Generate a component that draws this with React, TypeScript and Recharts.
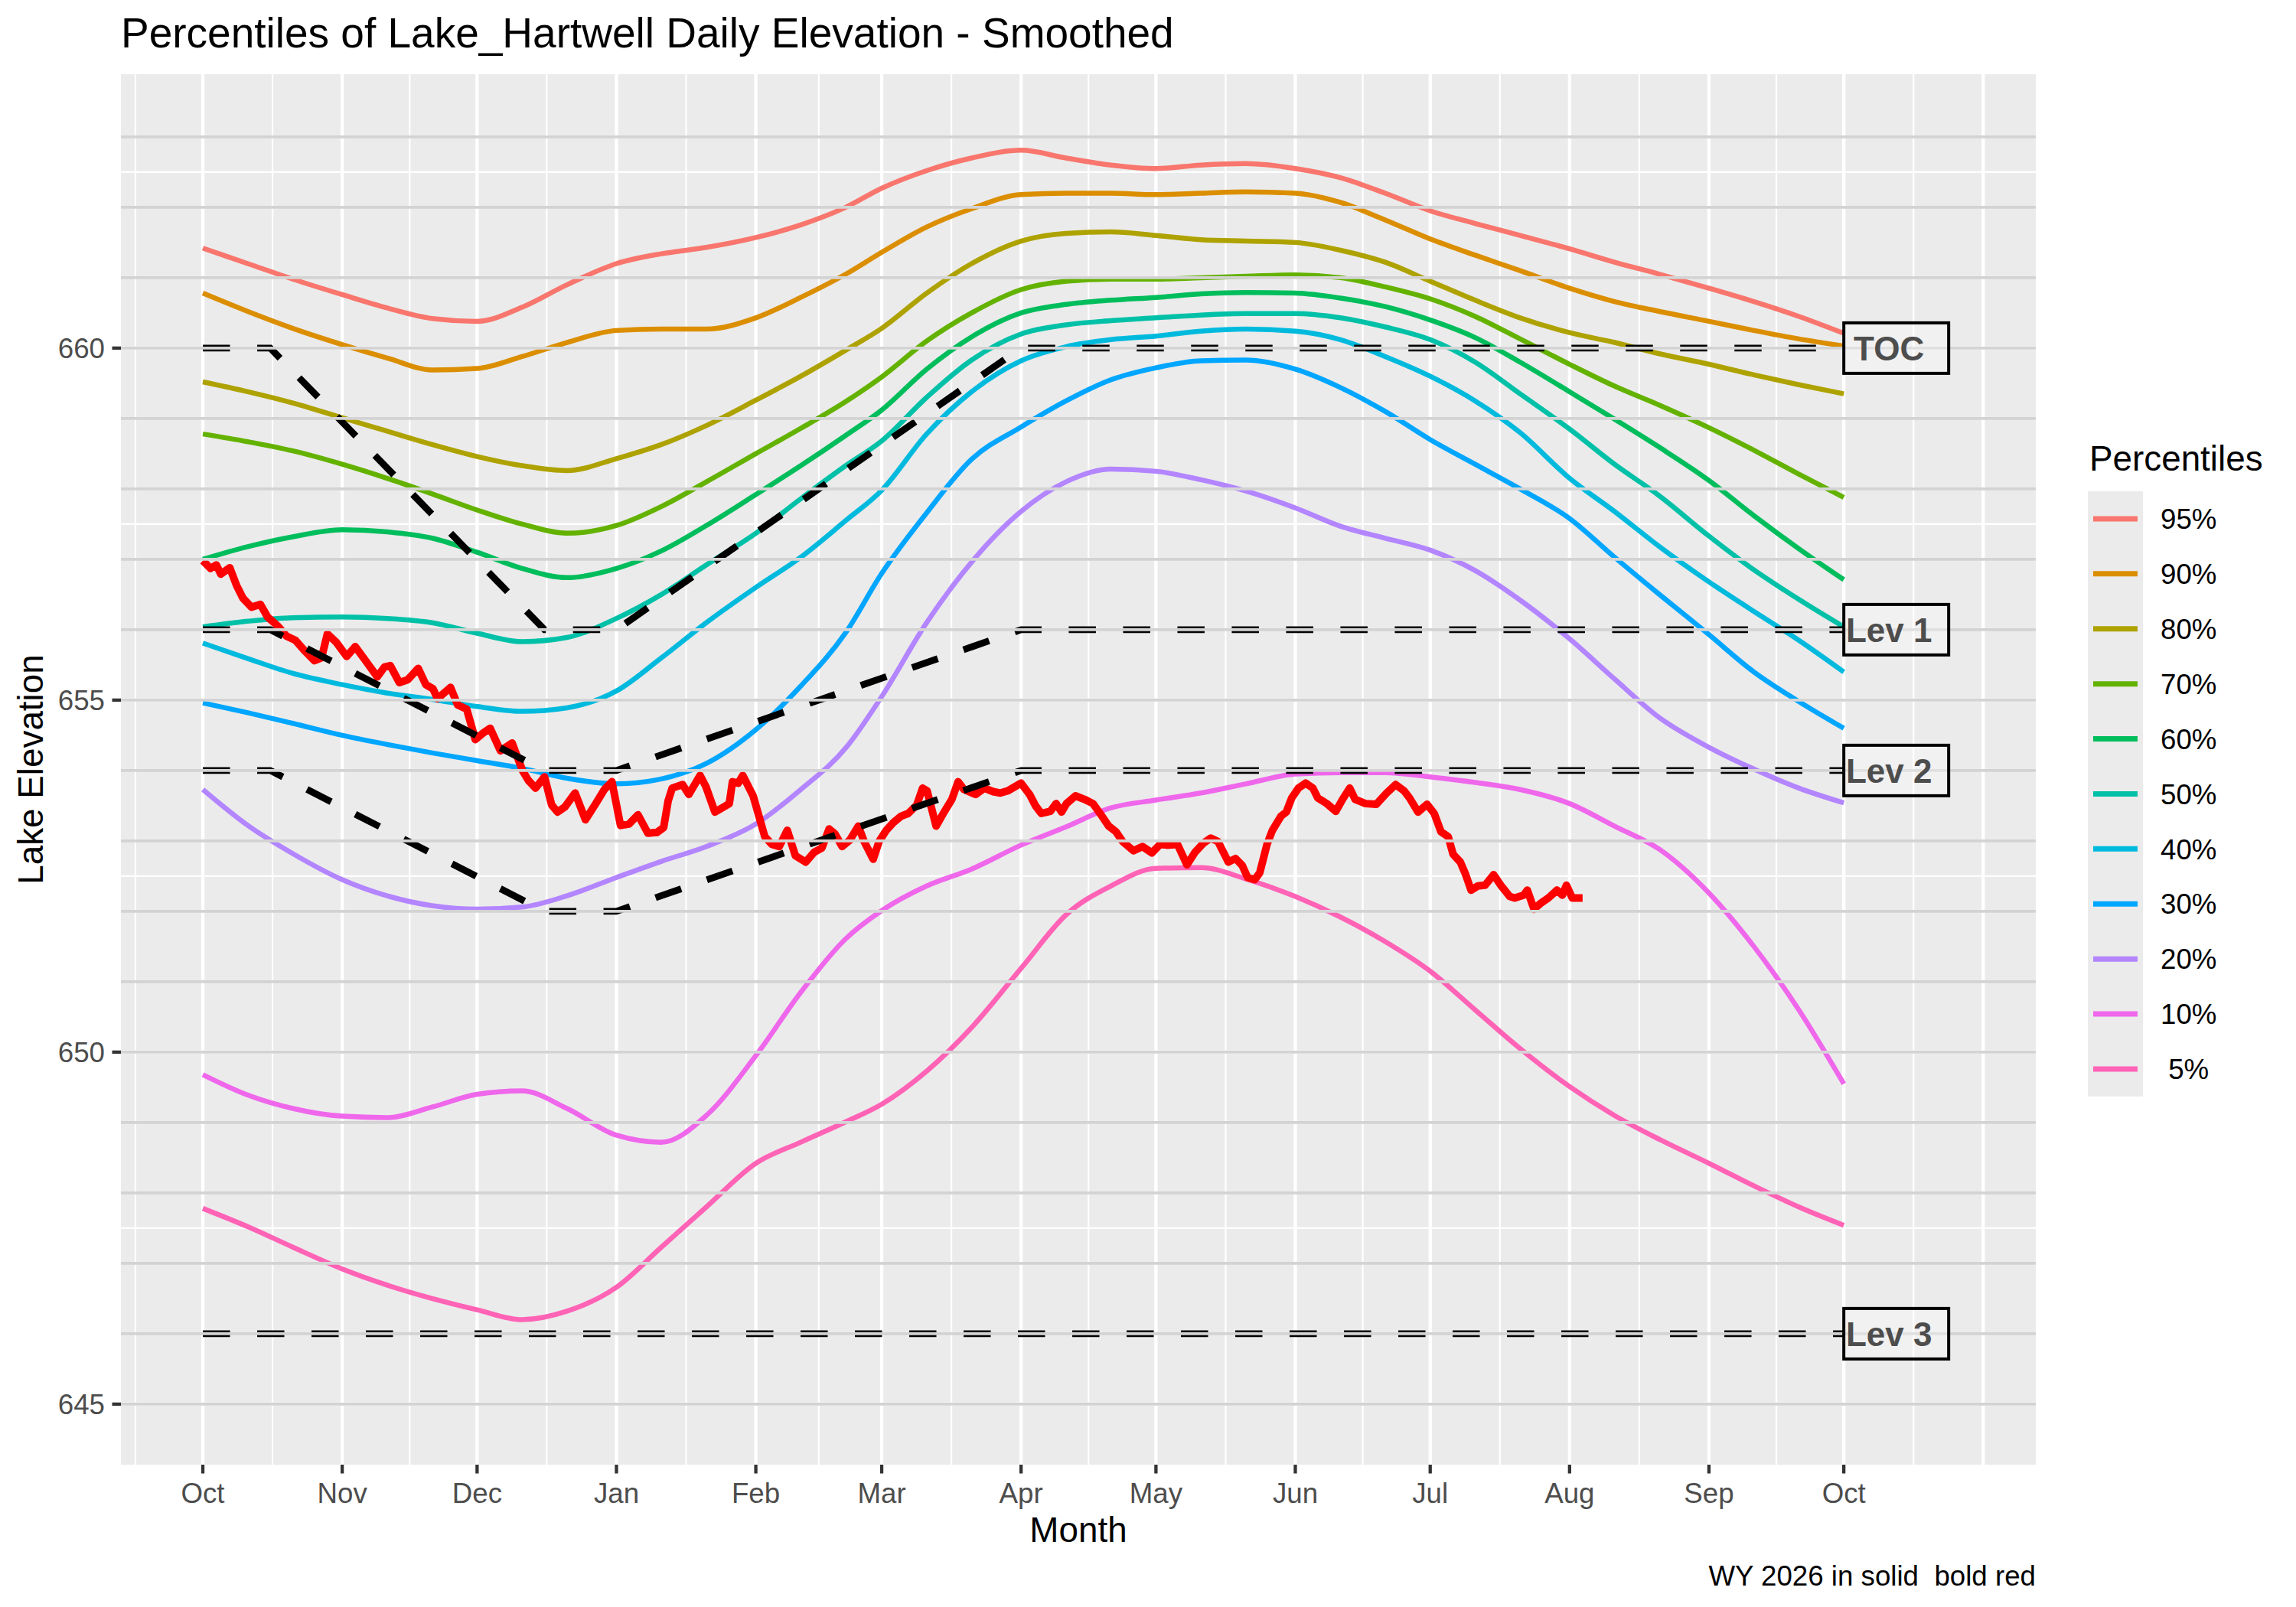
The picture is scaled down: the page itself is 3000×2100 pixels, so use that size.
import React from 'react'
import {
  LineChart, Line, XAxis, YAxis, CartesianGrid, ReferenceLine, ReferenceDot, Label
} from 'recharts'

const FONT = '"Liberation Sans", Arial, Helvetica, sans-serif'

// day of water year (0 = Oct 1)
const monthDays = [0, 31, 61, 92, 123, 151, 182, 212, 243, 273, 304, 335, 365]
const monthNames = ['Oct', 'Nov', 'Dec', 'Jan', 'Feb', 'Mar', 'Apr', 'May', 'Jun', 'Jul', 'Aug', 'Sep', 'Oct']
const gridMajorDays = [0, 31, 61, 92, 123, 151, 182, 212, 243, 273, 304, 335, 365, 396]
const gridMinorDays = [-15, 15.5, 46, 76.5, 107.5, 137, 166.5, 197, 227.5, 258, 288.5, 319.5, 350, 380.5]
const elevTicks = [645, 650, 655, 660]
const elevMinor = [647.5, 652.5, 657.5, 662.5]
const refElev = [645, 646, 647, 648, 649, 650, 651, 652, 653, 654, 655, 656, 657, 658, 659, 660, 661, 662, 663]

// smoothed percentile curves, read at these days
const days = [0, 10, 20, 31, 41, 51, 61, 71, 81, 92, 102, 112, 123, 133, 143, 151, 161, 171, 182, 192, 202, 212, 222, 232, 243, 253, 263, 273, 283, 293, 304, 314, 324, 335, 345, 355, 365]

const p95 = [661.42, 661.2, 660.98, 660.76, 660.57, 660.42, 660.38, 660.58, 660.9, 661.2, 661.34, 661.43, 661.57, 661.75, 662.0, 662.27, 662.52, 662.7, 662.81, 662.7, 662.6, 662.55, 662.6, 662.62, 662.55, 662.42, 662.2, 661.95, 661.77, 661.6, 661.41, 661.22, 661.05, 660.85, 660.66, 660.45, 660.21]
const p90 = [660.78, 660.52, 660.28, 660.05, 659.86, 659.69, 659.71, 659.88, 660.08, 660.25, 660.27, 660.27, 660.43, 660.72, 661.05, 661.36, 661.72, 661.98, 662.18, 662.2, 662.2, 662.18, 662.2, 662.22, 662.2, 662.07, 661.82, 661.55, 661.32, 661.1, 660.85, 660.66, 660.52, 660.38, 660.25, 660.13, 660.03]
const p80 = [659.52, 659.38, 659.22, 659.01, 658.82, 658.63, 658.46, 658.33, 658.26, 658.43, 658.63, 658.9, 659.26, 659.6, 659.97, 660.28, 660.78, 661.2, 661.52, 661.63, 661.65, 661.6, 661.54, 661.52, 661.5, 661.39, 661.22, 660.95, 660.68, 660.43, 660.22, 660.08, 659.92, 659.77, 659.62, 659.48, 659.35]
const p70 = [658.78, 658.67, 658.54, 658.35, 658.15, 657.93, 657.7, 657.5, 657.37, 657.48, 657.75, 658.1, 658.5, 658.86, 659.24, 659.59, 660.1, 660.5, 660.83, 660.95, 660.98, 660.98, 661.0, 661.02, 661.04, 661.0, 660.87, 660.7, 660.45, 660.13, 659.77, 659.46, 659.19, 658.87, 658.55, 658.21, 657.88]
const p60 = [657.0, 657.18, 657.32, 657.42, 657.39, 657.3, 657.1, 656.87, 656.74, 656.87, 657.12, 657.48, 657.92, 658.33, 658.76, 659.12, 659.7, 660.16, 660.5, 660.62, 660.68, 660.72, 660.77, 660.79, 660.78, 660.71, 660.59, 660.4, 660.15, 659.8, 659.38, 658.99, 658.59, 658.12, 657.62, 657.15, 656.71]
const p50 = [656.04, 656.12, 656.17, 656.18, 656.16, 656.1, 655.95, 655.83, 655.89, 656.16, 656.5, 656.92, 657.37, 657.86, 658.33, 658.68, 659.3, 659.83, 660.2, 660.33, 660.39, 660.43, 660.47, 660.49, 660.49, 660.43, 660.3, 660.12, 659.8, 659.35, 658.85, 658.35, 657.9, 657.33, 656.85, 656.43, 656.04]
const p40 = [655.81, 655.59, 655.38, 655.22, 655.1, 655.01, 654.91, 654.84, 654.89, 655.13, 655.6, 656.1, 656.6, 657.03, 657.55, 657.98, 658.78, 659.38, 659.82, 660.02, 660.12, 660.17, 660.24, 660.27, 660.24, 660.12, 659.88, 659.6, 659.25, 658.8, 658.15, 657.68, 657.18, 656.68, 656.26, 655.85, 655.4]
const p30 = [654.96, 654.82, 654.67, 654.5, 654.37, 654.25, 654.14, 654.03, 653.89, 653.81, 653.88, 654.1, 654.58, 655.2, 655.96, 656.8, 657.66, 658.42, 658.88, 659.25, 659.55, 659.72, 659.82, 659.83, 659.7, 659.44, 659.1, 658.7, 658.35, 658.0, 657.58, 657.03, 656.5, 655.93, 655.4, 654.98, 654.6]
const p20 = [653.73, 653.22, 652.82, 652.45, 652.22, 652.08, 652.03, 652.06, 652.22, 652.48, 652.71, 652.92, 653.24, 653.73, 654.32, 655.05, 656.1, 656.96, 657.68, 658.1, 658.28, 658.25, 658.13, 657.97, 657.73, 657.47, 657.3, 657.13, 656.84, 656.42, 655.87, 655.3, 654.75, 654.33, 654.02, 653.75, 653.54]
const p10 = [649.68, 649.39, 649.2, 649.09, 649.07, 649.22, 649.4, 649.45, 649.2, 648.82, 648.72, 649.1, 649.95, 650.85, 651.61, 652.01, 652.36, 652.6, 652.94, 653.2, 653.47, 653.58, 653.68, 653.81, 653.95, 653.97, 653.97, 653.91, 653.83, 653.73, 653.53, 653.21, 652.88, 652.26, 651.5, 650.6, 649.55]
const p5 = [647.78, 647.52, 647.23, 646.92, 646.69, 646.5, 646.34, 646.2, 646.32, 646.66, 647.23, 647.8, 648.42, 648.72, 649.01, 649.26, 649.73, 650.35, 651.19, 651.95, 652.36, 652.61, 652.62, 652.46, 652.21, 651.92, 651.57, 651.15, 650.6, 650.05, 649.51, 649.1, 648.76, 648.42, 648.1, 647.8, 647.54]

const pctNames = ['95%', '90%', '80%', '70%', '60%', '50%', '40%', '30%', '20%', '10%', ' 5%']
const pctColors = ['#F8766D', '#DB8E00', '#AEA200', '#64B200', '#00BD5C', '#00C1A7', '#00BADE', '#00A6FF', '#B385FF', '#EF67EB', '#FF63B6']
const pctValues = [p95, p90, p80, p70, p60, p50, p40, p30, p20, p10, p5]

// guide curves
const ruleDays = [0, 15, 76, 92, 182, 365]
const tocRule = [660, 660, 656, 656, 660, 660]
const lev1Rule = [656, 656, 654, 654, 656, 656]
const lev2Rule = [654, 654, 652, 652, 654, 654]
const lev3Rule = [646, 646, 646, 646, 646, 646]
const ruleNames = ['TOC', 'Lev 1', 'Lev 2', 'Lev 3']
const ruleLevels = [660, 656, 654, 646]

// WY 2026 observed
const obsDays = [0, 1.7, 3, 4, 6, 7.5, 8.9, 10.8, 12.8, 14.4, 16.7, 18.6, 20.6, 22.5, 24.8, 26.4, 27.7, 29.7, 32, 33.9, 36.2, 38.8, 40.4, 41.7, 43.7, 45.6, 47.9, 49.6, 51.2, 52.2, 55.1, 56.7, 58.7, 60.6, 62.3, 63.9, 66.2, 68.8, 71.1, 72.4, 74, 76, 77.6, 78.9, 80.5, 82.8, 85.1, 87.4, 89.3, 91, 92.9, 94.8, 96.8, 99,
  101, 102.5, 103.5, 104.4, 106.7, 108.1, 109.3, 110.6, 111.9, 113.9, 115.8, 117.1, 117.8, 119.1, 120.1, 122.4, 123.7, 125, 126.6, 128.2, 130, 131.8, 134.1, 136, 137.7, 139.3, 140.6, 142.2, 143.9, 145.8, 147.1, 149.1, 150.4, 152, 153.6, 155.3, 156.9, 158.8, 160.1, 161.1, 163.1, 164.7, 166.6, 168, 169.3, 171.9, 173.8, 175.8, 177.4, 179, 182, 183.9, 185.2, 186.5, 188.5, 189.8,
  191, 192.1, 194.1, 196.1, 198, 200, 201.5, 203.1, 204.6, 207, 209, 211.1, 212.9, 214.4, 216.8, 218.9, 220.7, 222.6, 224.2, 225.8, 228.1, 229.7, 231.2, 232.4, 234, 235.1, 236.7, 237.9, 239.8, 241, 242.2, 243.7, 245.3, 246.9, 248, 250, 252, 253.5, 255.1, 256.3, 258.6, 261, 263.3, 265.3, 267.2, 268.4, 270.3, 272.3, 273.9, 275.4, 277, 278.1, 279.7, 280.9, 282.1, 283.6, 285.2, 287.1, 288.7, 290.7, 291.8, 293.8, 294.6, 296.1, 297.7, 299.3, 301.2, 302.4, 303.3, 304.6, 306.9]
const obsElev = [656.98, 656.87, 656.92, 656.79, 656.88, 656.63, 656.45, 656.32, 656.36, 656.18, 656.05, 655.91, 655.85, 655.71, 655.56, 655.6, 655.94, 655.82, 655.62, 655.76, 655.56, 655.33, 655.47, 655.49, 655.25, 655.29, 655.45, 655.22, 655.16, 655.02, 655.18, 654.93, 654.87, 654.44, 654.53, 654.6, 654.28, 654.39, 654.0, 653.86, 653.75, 653.91, 653.51, 653.41, 653.48, 653.68, 653.3, 653.53, 653.73, 653.84, 653.22, 653.24, 653.37, 653.11,
  653.12, 653.19, 653.57, 653.75, 653.8, 653.66, 653.79, 653.93, 653.77, 653.41, 653.48, 653.53, 653.84, 653.82, 653.93, 653.64, 653.35, 653.06, 652.95, 652.92, 653.15, 652.79, 652.7, 652.84, 652.9, 653.17, 653.1, 652.92, 653.01, 653.21, 652.99, 652.74, 652.99, 653.15, 653.26, 653.35, 653.39, 653.51, 653.75, 653.71, 653.21, 653.39, 653.59, 653.84, 653.73, 653.66, 653.75, 653.7, 653.68, 653.71, 653.82, 653.66, 653.5, 653.39, 653.42, 653.53,
  653.41, 653.53, 653.64, 653.59, 653.53, 653.35, 653.21, 653.13, 652.99, 652.86, 652.92, 652.83, 652.95, 652.94, 652.95, 652.66, 652.84, 652.97, 653.04, 652.99, 652.7, 652.75, 652.65, 652.48, 652.45, 652.55, 652.95, 653.15, 653.35, 653.41, 653.61, 653.75, 653.82, 653.75, 653.61, 653.53, 653.42, 653.59, 653.75, 653.59, 653.53, 653.52, 653.68, 653.8, 653.71, 653.61, 653.41, 653.52, 653.39, 653.13, 653.06, 652.81, 652.7, 652.52, 652.3, 652.36, 652.37, 652.52, 652.37, 652.21, 652.19, 652.23, 652.3, 652.03, 652.12, 652.19, 652.3, 652.23, 652.37, 652.19, 652.19]

const toPoints = (xs: number[], ys: number[]) => xs.map((d, i) => ({ d, v: ys[i] }))

const XTitle = (props: any) => {
  const vb = props.viewBox || { x: 158, y: 1914, width: 2502 }
  return (
    <text x={vb.x + vb.width / 2} y={vb.y + 101} textAnchor="middle" fontSize={45.8} fill="#000" fontFamily={FONT}>
      Month
    </text>
  )
}

const YTitle = (props: any) => {
  const vb = props.viewBox || { x: 38, y: 97, height: 1817 }
  const x = vb.x + 18
  const y = vb.y + vb.height / 2
  return (
    <text x={x} y={y} transform={`rotate(-90 ${x} ${y})`} textAnchor="middle" fontSize={45.8} fill="#000" fontFamily={FONT}>
      Lake Elevation
    </text>
  )
}

const levelBox = (name: string) => (props: any) => {
  const { cx, cy } = props
  return (
    <g>
      <rect x={cx} y={cy - 33} width={137} height={66} fill="#ffffff" fillOpacity={0.3} stroke="#000" strokeWidth={4} />
      <text x={cx + 59} y={cy} dy="0.36em" textAnchor="middle" fontSize={44} fontWeight="bold" fill="#4D4D4D" fontFamily={FONT}>
        {name}
      </text>
    </g>
  )
}

export default function App() {
  const ruleData = [tocRule, lev1Rule, lev2Rule, lev3Rule].map(r => toPoints(ruleDays, r))
  const obsData = toPoints(obsDays, obsElev)
  const legendTop = 642
  const keyH = 71.9

  return (
    <div style={{ position: 'absolute', left: 0, top: 0, width: 3000, height: 2100, background: '#fff', fontFamily: FONT }}>
      <LineChart width={3000} height={2100} margin={{ top: 97, right: 340, bottom: 106, left: 38 }}>
        <CartesianGrid fill="#EBEBEB" fillOpacity={1} horizontal={false} vertical={false} stroke="none" />
        <XAxis
          type="number" dataKey="d" domain={[-18.22, 407.7]} allowDataOverflow
          ticks={monthDays} interval={0} height={80}
          tickFormatter={(v: number) => monthNames[monthDays.indexOf(v)]}
          tickSize={11.5} tickMargin={12.5} axisLine={false}
          tickLine={{ stroke: '#333333', strokeWidth: 4.3 }}
          tick={{ fill: '#4D4D4D', fontSize: 36.7, fontFamily: FONT }}
          label={<Label content={XTitle} />}
        />
        <YAxis
          type="number" domain={[644.14, 663.89]} allowDataOverflow
          ticks={elevTicks} interval={0} width={120}
          tickSize={11.5} tickMargin={9.5} axisLine={false}
          tickLine={{ stroke: '#333333', strokeWidth: 4.3 }}
          tick={{ fill: '#4D4D4D', fontSize: 36.7, fontFamily: FONT }}
          label={<Label content={YTitle} />}
        />

        {gridMinorDays.map(d => (
          <ReferenceLine key={'vm' + d} x={d} stroke="#ffffff" strokeWidth={2.2} zIndex={-50} />
        ))}
        {gridMajorDays.map(d => (
          <ReferenceLine key={'vM' + d} x={d} stroke="#ffffff" strokeWidth={4.3} zIndex={-50} />
        ))}
        {elevMinor.map(e => (
          <ReferenceLine key={'hm' + e} y={e} stroke="#ffffff" strokeWidth={2.2} zIndex={-50} />
        ))}
        {elevTicks.map(e => (
          <ReferenceLine key={'hM' + e} y={e} stroke="#ffffff" strokeWidth={4.3} zIndex={-50} />
        ))}

        {pctValues.map((vals, i) => (
          <Line
            key={pctNames[i]} data={toPoints(days, vals)} dataKey="v" type="monotone"
            stroke={pctColors[i]} strokeWidth={6.5} dot={false} activeDot={false}
            isAnimationActive={false} zIndex={300}
          />
        ))}

        <Line
          data={obsData} dataKey="v" type="linear" stroke="#FF0000" strokeWidth={10}
          strokeLinejoin="round" dot={false} activeDot={false} isAnimationActive={false} zIndex={310}
        />

        {ruleData.map((pts, i) => (
          <Line
            key={ruleNames[i]} data={pts} dataKey="v" type="linear" stroke="#000000"
            strokeWidth={8.9} strokeDasharray="35.5 35.5" dot={false} activeDot={false}
            isAnimationActive={false} zIndex={320}
          />
        ))}

        {refElev.map(e => (
          <ReferenceLine key={'g' + e} y={e} stroke="#D3D3D3" strokeWidth={3.6} zIndex={330} />
        ))}

        {ruleNames.map((n, i) => (
          <ReferenceDot key={'lb' + n} x={365} y={ruleLevels[i]} r={0} shape={levelBox(n)} zIndex={340} />
        ))}
      </LineChart>

      <svg width={3000} height={2100} style={{ position: 'absolute', left: 0, top: 0, pointerEvents: 'none' }}>
        <text x={158} y={62} fontSize={55} fill="#000" fontFamily={FONT}>
          Percentiles of Lake_Hartwell Daily Elevation - Smoothed
        </text>
        <text x={2660} y={2072} textAnchor="end" fontSize={36.7} fill="#000" fontFamily={FONT} style={{ whiteSpace: 'pre' }}>
          {'WY 2026 in solid  bold red'}
        </text>
        <text x={2730} y={615} fontSize={45.8} fill="#000" fontFamily={FONT}>Percentiles</text>
        <rect x={2728} y={legendTop} width={72} height={keyH * pctNames.length} fill="#EBEBEB" />
        {pctNames.map((n, i) => {
          const cy = legendTop + keyH / 2 + i * keyH
          return (
            <g key={'lg' + n}>
              <line x1={2735} x2={2793} y1={cy} y2={cy} stroke={pctColors[i]} strokeWidth={7} />
              <text x={2823} y={cy} dy="0.36em" fontSize={36.7} fill="#000" fontFamily={FONT} style={{ whiteSpace: 'pre' }}>
                {n}
              </text>
            </g>
          )
        })}
      </svg>
    </div>
  )
}
